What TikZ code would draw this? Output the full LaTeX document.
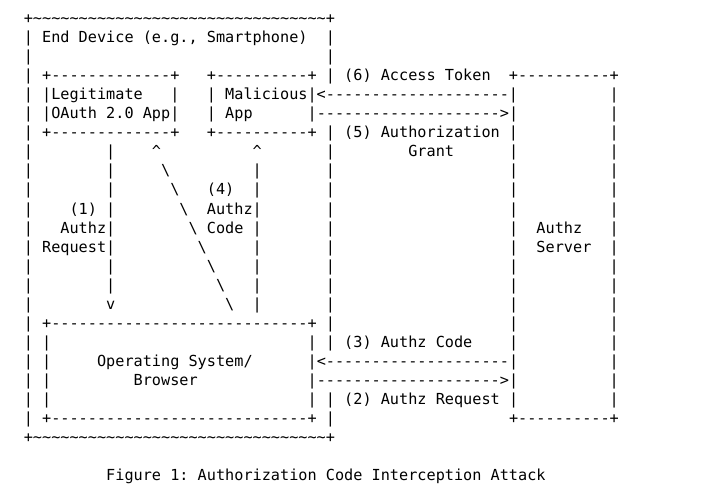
\documentclass[tikz,border=0pt]{standalone}
\usepackage{fontspec}
\newfontfamily\mono{DejaVu Sans Mono}
\newlength\cw
\setlength\cw{9.155pt}
\ExplSyntaxOn
\NewDocumentCommand\rpt{mm}{\prg_replicate:nn{#1}{#2}}
\ExplSyntaxOff
\newcommand\sk[1]{\hspace*{#1\cw}}
\newcommand\D[1]{\rpt{#1}{-}}
\newcommand\tld{\rpt{32}{\textasciitilde}}
\newcommand\BS{\textbackslash}
\newcommand\UP{\textasciicircum}
\tikzset{
  row/.style={font=\mono\fontsize{15.207}{19}\selectfont\frenchspacing,
    anchor=base west, inner sep=0pt, outer sep=0pt, text=black}
}
\begin{document}
\begin{tikzpicture}[x=1pt,y=-1pt]
\fill[white] (0,0) rectangle (712,500);
\useasboundingbox (0,0) rectangle (712,500);
\begin{scope}[yshift=-1pt]
\node[row] (l0)  at (23.8,22.7)   {+\tld+};
\node[row] (l1)  at (23.8,41.73)  {|\sk{1}End Device (e.g., Smartphone)\sk{2}|};
\node[row] (l2)  at (23.8,60.76)  {|\sk{32}|};
\node[row] (l3)  at (23.8,79.79)  {|\sk{1}+\D{13}+\sk{3}+\D{10}+\sk{1}|\sk{1}(6) Access Token\sk{2}+\D{10}+};
\node[row] (l4)  at (23.8,98.82)  {|\sk{1}|Legitimate\sk{3}|\sk{3}|\sk{1}Malicious|<\D{20}|\sk{10}|};
\node[row] (l5)  at (23.8,117.85) {|\sk{1}|OAuth 2.0 App|\sk{3}|\sk{1}App\sk{6}|\D{20}>|\sk{10}|};
\node[row] (l6)  at (23.8,136.88) {|\sk{1}+\D{13}+\sk{3}+\D{10}+\sk{1}|\sk{1}(5) Authorization\sk{1}|\sk{10}|};
\node[row] (l7)  at (23.8,155.91) {|\sk{8}|\sk{4}\UP\sk{10}\UP\sk{7}|\sk{8}Grant\sk{6}|\sk{10}|};
\node[row] (l8)  at (23.8,174.94) {|\sk{8}|\sk{5}\BS\sk{9}|\sk{7}|\sk{19}|\sk{10}|};
\node[row] (l9)  at (23.8,193.97) {|\sk{8}|\sk{6}\BS\sk{3}(4)\sk{2}|\sk{7}|\sk{19}|\sk{10}|};
\node[row] (l10) at (23.8,213.0)  {|\sk{4}(1)\sk{1}|\sk{7}\BS\sk{2}Authz|\sk{7}|\sk{19}|\sk{10}|};
\node[row] (l11) at (23.8,232.03) {|\sk{3}Authz|\sk{8}\BS\sk{1}Code\sk{1}|\sk{7}|\sk{19}|\sk{2}Authz\sk{3}|};
\node[row] (l12) at (23.8,251.06) {|\sk{1}Request|\sk{9}\BS\sk{5}|\sk{7}|\sk{19}|\sk{2}Server\sk{2}|};
\node[row] (l13) at (23.8,270.09) {|\sk{8}|\sk{10}\BS\sk{4}|\sk{7}|\sk{19}|\sk{10}|};
\node[row] (l14) at (23.8,289.12) {|\sk{8}|\sk{11}\BS\sk{3}|\sk{7}|\sk{19}|\sk{10}|};
\node[row] (l15) at (23.8,308.15) {|\sk{8}v\sk{12}\BS\sk{2}|\sk{7}|\sk{19}|\sk{10}|};
\node[row] (l16) at (23.8,327.18) {|\sk{1}+\D{28}+\sk{1}|\sk{19}|\sk{10}|};
\node[row] (l17) at (23.8,346.21) {|\sk{1}|\sk{28}|\sk{1}|\sk{1}(3) Authz Code\sk{4}|\sk{10}|};
\node[row] (l18) at (23.8,365.24) {|\sk{1}|\sk{5}Operating System/\sk{6}|<\D{20}|\sk{10}|};
\node[row] (l19) at (23.8,384.27) {|\sk{1}|\sk{9}Browser\sk{12}|\D{20}>|\sk{10}|};
\node[row] (l20) at (23.8,403.3)  {|\sk{1}|\sk{28}|\sk{1}|\sk{1}(2) Authz Request\sk{1}|\sk{10}|};
\node[row] (l21) at (23.8,422.33) {|\sk{1}+\D{28}+\sk{1}|\sk{19}+\D{10}+};
\node[row] (l22) at (23.8,441.36) {+\tld+};
\node[row] (cap) at (23.8,479.42) {\sk{9}Figure 1: Authorization Code Interception Attack};
\end{scope}
\end{tikzpicture}
\end{document}
